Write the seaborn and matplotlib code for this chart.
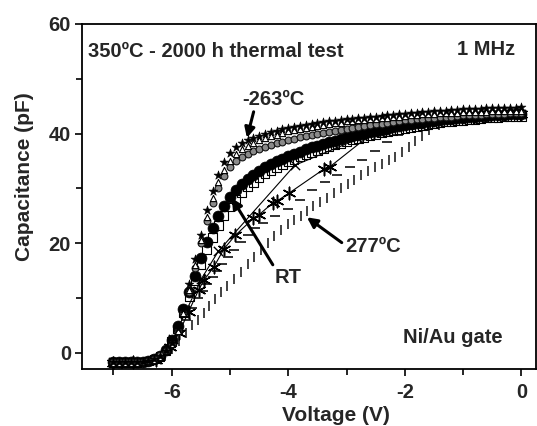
import numpy as np
import pandas as pd
import matplotlib
matplotlib.use("Agg")
import matplotlib.pyplot as plt
import seaborn as sns
from matplotlib.ticker import MultipleLocator

# ---------------- data ----------------
v_grid = [
    -7.0, -6.9, -6.8, -6.7, -6.6, -6.5, -6.4, -6.3, -6.2, -6.1,
    -6.0, -5.9, -5.8, -5.7, -5.6, -5.5, -5.4, -5.3, -5.2, -5.1,
    -5.0, -4.9, -4.8, -4.7, -4.6, -4.5, -4.4, -4.3, -4.2, -4.1,
    -4.0, -3.9, -3.8, -3.7, -3.6, -3.5, -3.4, -3.3, -3.2, -3.1,
    -3.0, -2.9, -2.8, -2.7, -2.6, -2.5, -2.4, -2.3, -2.2, -2.1,
    -2.0, -1.9, -1.8, -1.7, -1.6, -1.5, -1.4, -1.3, -1.2, -1.1,
    -1.0, -0.9, -0.8, -0.7, -0.6, -0.5, -0.4, -0.3, -0.2, -0.1,
    0.0,
]

# -263 C (stars)
c_m263 = [
    -1.8, -1.8, -1.8, -1.8, -1.8, -1.7, -1.5, -1.2, -0.6, 0.3,
    1.8, 4.5, 8.0, 12.5, 17.0, 21.5, 26.0, 29.5, 32.5, 34.8,
    36.4, 37.5, 38.2, 38.8, 39.2, 39.6, 39.9, 40.2, 40.5, 40.8,
    41.0, 41.2, 41.4, 41.6, 41.8, 41.9, 42.1, 42.2, 42.3, 42.5,
    42.6, 42.7, 42.8, 42.9, 43.0, 43.1, 43.2, 43.3, 43.4, 43.5,
    43.6, 43.7, 43.8, 43.9, 44.0, 44.1, 44.1, 44.2, 44.3, 44.3,
    44.4, 44.4, 44.5, 44.5, 44.6, 44.6, 44.6, 44.7, 44.7, 44.7,
    44.8,
]

# low temperature (open triangles)
c_tri = [
    -1.9, -1.9, -1.9, -1.9, -1.9, -1.8, -1.6, -1.3, -0.8, 0.2,
    1.5, 4.0, 7.3, 11.5, 16.0, 20.5, 24.8, 28.3, 31.2, 33.3,
    35.0, 36.2, 37.1, 37.8, 38.3, 38.8, 39.2, 39.5, 39.8, 40.1,
    40.4, 40.6, 40.8, 41.0, 41.2, 41.4, 41.6, 41.7, 41.9, 42.0,
    42.2, 42.3, 42.4, 42.5, 42.6, 42.7, 42.8, 42.9, 43.0, 43.1,
    43.2, 43.3, 43.4, 43.5, 43.5, 43.6, 43.7, 43.7, 43.8, 43.8,
    43.9, 43.9, 44.0, 44.0, 44.0, 44.1, 44.1, 44.1, 44.2, 44.2,
    44.2,
]

# shaded small circles
c_gray = [
    -1.8, -1.8, -1.8, -1.8, -1.8, -1.7, -1.5, -1.2, -0.5, 0.2,
    1.5, 4.0, 7.2, 11.0, 15.5, 20.0, 24.0, 27.3, 30.0, 32.2,
    33.8, 35.0, 35.7, 36.3, 36.8, 37.2, 37.6, 37.9, 38.2, 38.5,
    38.8, 39.0, 39.3, 39.5, 39.7, 39.9, 40.1, 40.3, 40.5, 40.7,
    40.9, 41.0, 41.2, 41.4, 41.5, 41.7, 41.8, 42.0, 42.1, 42.3,
    42.4, 42.5, 42.6, 42.7, 42.8, 42.9, 43.0, 43.1, 43.1, 43.2,
    43.3, 43.3, 43.4, 43.4, 43.5, 43.5, 43.6, 43.6, 43.7, 43.7,
    43.7,
]

# RT (large filled circles)
c_rt = [
    -1.8, -1.8, -1.8, -1.8, -1.8, -1.7, -1.5, -1.2, -0.6, 0.5,
    2.3, 4.8, 8.0, 11.0, 14.0, 17.2, 20.2, 22.8, 25.0, 26.8,
    28.4, 29.7, 30.8, 31.7, 32.5, 33.2, 33.8, 34.4, 34.9, 35.4,
    35.9, 36.3, 36.7, 37.1, 37.5, 37.8, 38.1, 38.4, 38.7, 39.0,
    39.3, 39.5, 39.8, 40.0, 40.3, 40.5, 40.7, 40.9, 41.1, 41.3,
    41.5, 41.7, 41.9, 42.0, 42.2, 42.3, 42.5, 42.6, 42.7, 42.8,
    42.9, 43.0, 43.1, 43.2, 43.2, 43.3, 43.4, 43.4, 43.5, 43.5,
    43.6,
]

# open squares
c_sq = [
    -1.8, -1.8, -1.8, -1.8, -1.8, -1.7, -1.5, -1.2, -0.7, 0.3,
    2.0, 4.3, 7.2, 10.2, 13.2, 16.0, 18.7, 21.0, 23.2, 25.0,
    26.6, 28.0, 29.2, 30.2, 31.1, 31.9, 32.6, 33.2, 33.8, 34.3,
    34.8, 35.3, 35.7, 36.1, 36.5, 36.9, 37.2, 37.6, 37.9, 38.2,
    38.5, 38.8, 39.1, 39.3, 39.6, 39.8, 40.1, 40.3, 40.5, 40.7,
    40.9, 41.1, 41.3, 41.5, 41.6, 41.8, 41.9, 42.1, 42.2, 42.3,
    42.4, 42.5, 42.6, 42.7, 42.8, 42.9, 42.9, 43.0, 43.0, 43.1,
    43.1,
]

# x markers with thin line
v_x = [-7.0, -6.66, -6.27, -5.98, -5.78, -5.49, -5.20, -3.89, -2.53, -1.21, 0.0]
c_x = [-1.8, -1.7, -1.2, 2.5, 7.0, 13.5, 18.5, 34.2, 40.2, 42.8, 43.6]

# asterisks with thin line
v_ast = [-7.0, -6.66, -6.27, -6.03, -5.88, -5.71, -5.54, -5.45, -5.28, -5.10,
         -4.91, -4.60, -4.51, -4.27, -4.19, -3.99, -3.39, -3.29, -2.53, -1.60,
         -0.82, 0.0]
c_ast = [-1.9, -1.8, -1.3, 1.0, 3.5, 7.5, 11.4, 13.2, 15.6, 19.0,
         21.4, 24.5, 25.1, 27.3, 27.7, 29.1, 33.5, 33.9, 40.3, 41.9,
         43.0, 43.5]

# dashes
v_dash = [-7.0, -6.85, -6.66, -6.46, -6.27, -6.12, -6.00, -5.88, -5.76, -5.65,
          -5.55, -5.47, -5.39, -5.30, -5.22, -5.13, -5.04, -4.94, -4.82, -4.70,
          -4.57, -4.44, -4.23, -4.01, -3.80, -3.59, -3.37, -3.16, -2.94, -2.73,
          -2.52, -2.30, -2.11, -1.91, -1.70, -1.46, -1.21, -0.97, -0.73, -0.48,
          -0.24, 0.0]
c_dash = [-1.9, -1.9, -1.8, -1.6, -1.2, -0.2, 1.5, 3.8, 6.0, 8.2,
          10.0, 11.2, 12.6, 13.8, 14.9, 16.2, 17.4, 18.8, 20.2, 21.4,
          22.8, 23.7, 25.0, 26.3, 27.8, 29.6, 31.2, 32.4, 33.8, 35.2,
          36.8, 38.5, 39.8, 40.8, 41.6, 42.3, 42.7, 43.0, 43.2, 43.3,
          43.4, 43.5]

# 277 C (vertical bars)
v_bar = [-7.0, -6.85, -6.66, -6.46, -6.27, -6.12, -6.00, -5.88, -5.76, -5.65,
         -5.55, -5.45, -5.36, -5.26, -5.16, -5.05, -4.94, -4.82, -4.70, -4.59,
         -4.47, -4.35, -4.24, -4.12, -4.00, -3.90, -3.79, -3.68, -3.57, -3.45,
         -3.33, -3.22, -3.10, -2.98, -2.87, -2.75, -2.63, -2.52, -2.40, -2.28,
         -2.17, -2.05, -1.93, -1.82, -1.70, -1.58, -1.41, -1.12, -0.82, -0.53,
         -0.24, 0.0]
c_bar = [-2.0, -2.0, -1.9, -1.7, -1.4, -0.6, 0.6, 2.2, 3.6, 5.0,
         6.0, 7.2, 8.5, 9.7, 11.0, 12.2, 13.5, 14.8, 16.2, 17.5,
         18.8, 20.0, 21.2, 22.3, 23.4, 24.2, 25.0, 25.8, 26.7, 27.5,
         28.3, 29.2, 30.0, 30.8, 31.6, 32.4, 33.2, 33.9, 34.5, 35.2,
         35.8, 36.6, 37.6, 38.6, 39.6, 40.6, 41.6, 42.4, 42.9, 43.1,
         43.3, 43.4]

x_ticks = [-6, -4, -2, 0]
y_ticks = [0, 20, 40, 60]

# ---------------- styling ----------------
sns.set_theme(style="ticks")
plt.rcParams["font.family"] = ["Liberation Sans", "DejaVu Sans"]
plt.rcParams["font.weight"] = "bold"
plt.rcParams["axes.labelweight"] = "bold"
plt.rcParams["axes.unicode_minus"] = False

W, H = 537, 426
fig = plt.figure(figsize=(W / 100, H / 100), dpi=100)
ax = fig.add_axes([82 / W, 1 - 369 / H, (536 - 82) / W, (369 - 24) / H])

k = "black"
# 277 C bars
sns.scatterplot(x=v_bar, y=c_bar, marker="|", s=55, color="#333333",
                linewidth=1.3, ax=ax, zorder=2)
# dashes
sns.scatterplot(x=v_dash, y=c_dash, marker="_", s=55, color="#222222",
                linewidth=1.3, ax=ax, zorder=2)
# asterisk line
sns.lineplot(x=v_ast, y=c_ast, sort=False, estimator=None, color=k,
             linewidth=0.8, ax=ax, zorder=3)
sns.scatterplot(x=v_ast, y=c_ast, marker=(6, 2, 0), s=80, color=k,
                linewidth=1.1, ax=ax, zorder=3)
# x line
sns.lineplot(x=v_x, y=c_x, sort=False, estimator=None, color=k,
             linewidth=0.8, ax=ax, zorder=3)
sns.scatterplot(x=v_x, y=c_x, marker="x", s=45, color=k,
                linewidth=1.0, ax=ax, zorder=3)
# open squares
sns.scatterplot(x=v_grid, y=c_sq, marker="s", s=38, facecolor="none",
                edgecolor=k, linewidth=0.8, ax=ax, zorder=4)
# RT filled circles
sns.scatterplot(x=v_grid, y=c_rt, marker="o", s=62, color=k,
                edgecolor=k, linewidth=0.5, ax=ax, zorder=5)
# shaded circles
sns.scatterplot(x=v_grid, y=c_gray, marker="o", s=24, color="#8a8a8a",
                edgecolor="#111111", linewidth=0.8, ax=ax, zorder=6)
# open triangles
sns.scatterplot(x=v_grid, y=c_tri, marker="^", s=20, facecolor="white",
                edgecolor=k, linewidth=0.8, ax=ax, zorder=7)
# -263 C stars
sns.scatterplot(x=v_grid, y=c_m263, marker="*", s=45, color=k,
                edgecolor=k, linewidth=0.4, ax=ax, zorder=8)

ax.set_xlim(-7.54, 0.25)
ax.set_ylim(-3.0, 60)
ax.set_xticks(x_ticks)
ax.set_yticks(y_ticks)
ax.xaxis.set_minor_locator(MultipleLocator(1))
ax.yaxis.set_minor_locator(MultipleLocator(10))
ax.tick_params(which="major", direction="out", length=5, width=1.2,
               labelsize=14.5, pad=3, color=k)
ax.tick_params(axis="x", which="major", pad=5)
ax.tick_params(which="minor", direction="out", length=4, width=1.2, color=k)
for lab in ax.get_xticklabels() + ax.get_yticklabels():
    lab.set_fontweight("bold")
for sp in ax.spines.values():
    sp.set_linewidth(1.3)
    sp.set_color(k)

ax.set_xlabel("Voltage (V)", fontsize=15, fontweight="bold")
ax.set_ylabel("Capacitance (pF)", fontsize=15, fontweight="bold")
ax.xaxis.set_label_coords(0.559, -0.135)
ax.xaxis.label.set_verticalalignment("center")
ax.yaxis.set_label_coords(-0.1256, 0.558)
ax.yaxis.label.set_verticalalignment("center")

fs = 14.5
ax.text(-7.44, 55.0, "350ºC - 2000 h thermal test", fontsize=fs,
        fontweight="bold", ha="left", va="center")
ax.text(-0.11, 55.4, "1 MHz", fontsize=fs, fontweight="bold",
        ha="right", va="center")
ax.text(-0.33, 2.7, "Ni/Au gate", fontsize=fs, fontweight="bold",
        ha="right", va="center")

arrow = dict(arrowstyle="-|>", color=k, lw=2.2, mutation_scale=15,
             shrinkA=0, shrinkB=0)
ax.annotate("-263ºC", xy=(-4.71, 39.2), xytext=(-4.26, 46.3),
            fontsize=fs, fontweight="bold", ha="center", va="center",
            arrowprops=dict(arrow, relpos=(0.2, 0.0)), zorder=10)
ax.annotate("RT", xy=(-4.97, 28.2), xytext=(-4.0, 13.7),
            fontsize=fs, fontweight="bold", ha="center", va="center",
            arrowprops=dict(arrow, relpos=(0.0, 1.0)), zorder=10)
ax.annotate("277ºC", xy=(-3.68, 24.7), xytext=(-2.55, 19.3),
            fontsize=fs, fontweight="bold", ha="center", va="center",
            arrowprops=dict(arrow, relpos=(0.0, 0.6)), zorder=10)

fig.savefig("out.png", dpi=100)
